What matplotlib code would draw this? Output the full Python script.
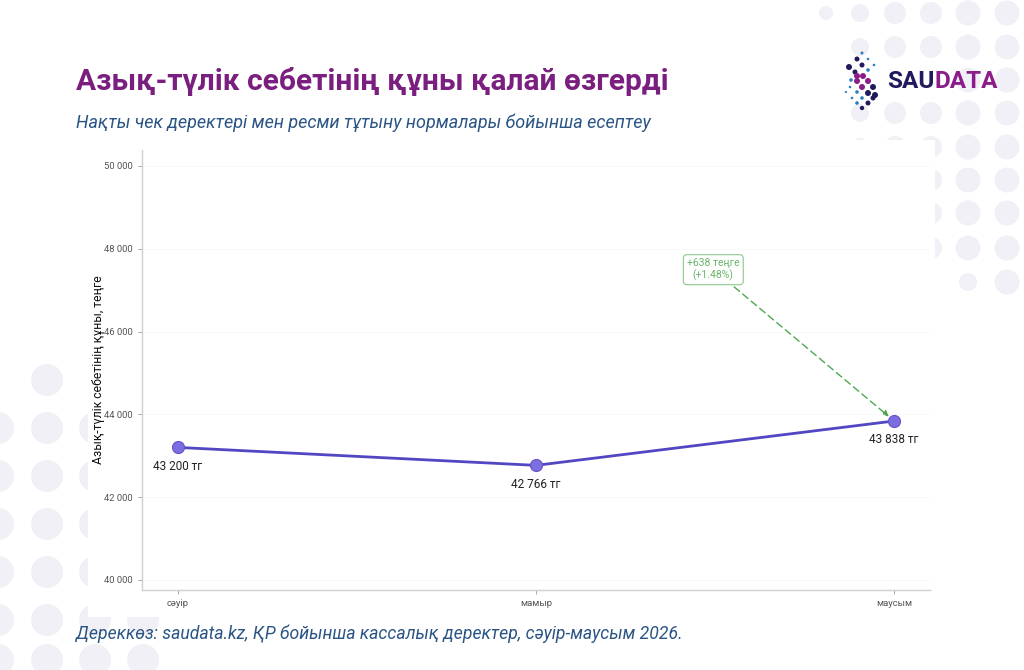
import numpy as np
import matplotlib.pyplot as plt
from matplotlib.patches import Circle, Rectangle

plt.rcParams['font.family'] = ['Roboto', 'DejaVu Sans']

months = ['сәуір', 'мамыр', 'маусым']
values = [43200, 42766, 43838]
yticks = [40000, 42000, 44000, 46000, 48000, 50000]
point_labels = ['43 200 тг', '42 766 тг', '43 838 тг']
change_text = '+638 теңге\n(+1.48%)'

title = 'Азық-түлік себетінің құны қалай өзгерді'
subtitle = 'Нақты чек деректері мен ресми тұтыну нормалары бойынша есептеу'
source = 'Дереккөз: saudata.kz, ҚР бойынша кассалық деректер, сәуір-маусым 2026.'
ylabel = 'Азық-түлік себетінің құны, теңге'

W, H = 1024, 670
fig = plt.figure(figsize=(W / 100, H / 100), dpi=100)
fig.patch.set_facecolor('white')
inch = fig.dpi_scale_trans


def px(x, y):
    # pixel position from top-left -> inches for dpi_scale_trans
    return x / 100, (H - y) / 100


def dot(x, y, r, color, z=0):
    fig.patches.append(Circle(px(x, y), r / 100, transform=inch,
                              facecolor=color, edgecolor='none', zorder=z))


# background circles
bg = '#f1f0f6'
cols_tr = [826, 860, 895, 931, 968, 1007]
rad_tr = [7, 9, 11, 11, 12.5, 12.5]
rows_tr = [13, 47, 80, 113, 147, 180, 213, 248, 282]
for i, yy in enumerate(rows_tr):
    for j, xx in enumerate(cols_tr):
        if i >= 1 and j == 0:
            continue
        if i == 2 and j < 4:
            continue
        if i >= 5 and j < 3:
            continue
        if i == 8 and j < 4:
            continue
        r = rad_tr[j] if not (i == 8 and j == 4) else 9
        dot(xx, yy, r, bg)

rows_bl = [380, 428, 476, 524, 572, 620, 660]
for i, yy in enumerate(rows_bl):
    for xx in [-2, 47, 95, 143]:
        if i == 0 and xx != 47:
            continue
        dot(xx, yy, 16, bg)

# white chart panel
fig.patches.append(Rectangle(px(88, 617), 847 / 100, 477 / 100, transform=inch,
                             facecolor='white', edgecolor='none', zorder=1))

# logo
navy = '#1f1b5c'
purple = '#8b1d8b'
blue = '#2a7fc0'
logo_dots = [
    (862, 53, 1.5, blue), (857, 59, 2.5, navy), (868, 59, 1.3, blue),
    (849, 67, 3, navy), (862, 65, 2.5, navy), (874, 65, 1.3, blue),
    (855, 72, 2.5, navy), (868, 70, 1.8, blue), (857, 76, 3, purple),
    (863, 76, 3, purple), (851, 80, 1.8, blue), (857, 81, 3, purple),
    (868, 81, 3, purple), (862, 87, 3, purple), (873, 87, 3, navy),
    (850, 87, 1.3, blue), (846, 92, 1.1, blue), (857, 92, 1.8, blue),
    (868, 93, 3, navy), (875, 95, 3, navy), (852, 98, 1.3, blue),
    (862, 98, 1.8, blue), (873, 98, 2.5, navy), (857, 103, 1.8, blue),
    (868, 103, 2.5, navy), (862, 108, 2.2, navy),
]
for x, y, r, c in logo_dots:
    dot(x, y, r, c, z=3)

t_sau = fig.text(887 / W, 1 - 81 / H, 'SAU', color=navy, fontsize=17.5,
                 fontweight='bold', ha='left', va='center', zorder=3)
fig.canvas.draw()
bb = t_sau.get_window_extent()
fig.text(bb.x1 / W, 1 - 81 / H, 'DATA', color=purple, fontsize=17.5,
         fontweight='bold', ha='left', va='center', zorder=3)

# titles
fig.text(76 / W, 1 - 82 / H, title, color='#7a1f7f', fontsize=21.5,
         fontweight='bold', ha='left', va='center')
fig.text(76 / W, 1 - 123 / H, subtitle, color='#2a5585', fontsize=13,
         style='italic', ha='left', va='center')
fig.text(76 / W, 1 - 634 / H, source, color='#2a5585', fontsize=12.7,
         style='italic', ha='left', va='center')

# chart
ax = fig.add_axes([142 / W, 1 - 590 / H, 788 / W, 440 / H], zorder=2)
ax.set_facecolor('none')
x = np.arange(len(months))
ax.plot(x, values, color='#5247c2', linewidth=2, zorder=3)
ax.scatter(x, values, s=75, color='#7a6fe0', edgecolors='#6a4fc8',
           linewidths=0.8, zorder=4)
for xi, v, lab in zip(x, values, point_labels):
    ax.annotate(lab, (xi, v), xytext=(0, -9), textcoords='offset points',
                ha='center', va='top', fontsize=8.5, color='#222222')

ax.annotate(change_text, xy=(x[2], values[2]), xytext=(1.495, 47500),
            ha='center', va='center', fontsize=7.5, color='#6ab46a',
            bbox=dict(boxstyle='round,pad=0.35', fc='white', ec='#8cc88c', lw=0.8),
            arrowprops=dict(arrowstyle='-|>', color='#4fa84f', lw=1,
                            linestyle=(0, (5, 3)), shrinkB=5, mutation_scale=8),
            zorder=5)

ax.set_xlim(-0.1, 2.1)
ax.set_ylim(39755, 50385)
ax.set_xticks(x)
ax.set_xticklabels(months)
ax.set_yticks(yticks)
ax.set_yticklabels([f'{v:,}'.replace(',', ' ') for v in yticks])
ax.tick_params(axis='both', labelsize=6.8, labelcolor='#555555', color='#999999',
               length=3, width=0.6)
ax.grid(axis='y', color='#eeeeee', linewidth=0.7, linestyle=':')
ax.set_axisbelow(True)
for s in ['top', 'right']:
    ax.spines[s].set_visible(False)
for s in ['left', 'bottom']:
    ax.spines[s].set_color('#d0d0d0')
    ax.spines[s].set_linewidth(1)
ax.set_ylabel(ylabel, fontsize=8.8, color='#111111')
ax.yaxis.set_label_coords(-0.047, 0.5)

fig.savefig('out.png', dpi=100, facecolor='white')
